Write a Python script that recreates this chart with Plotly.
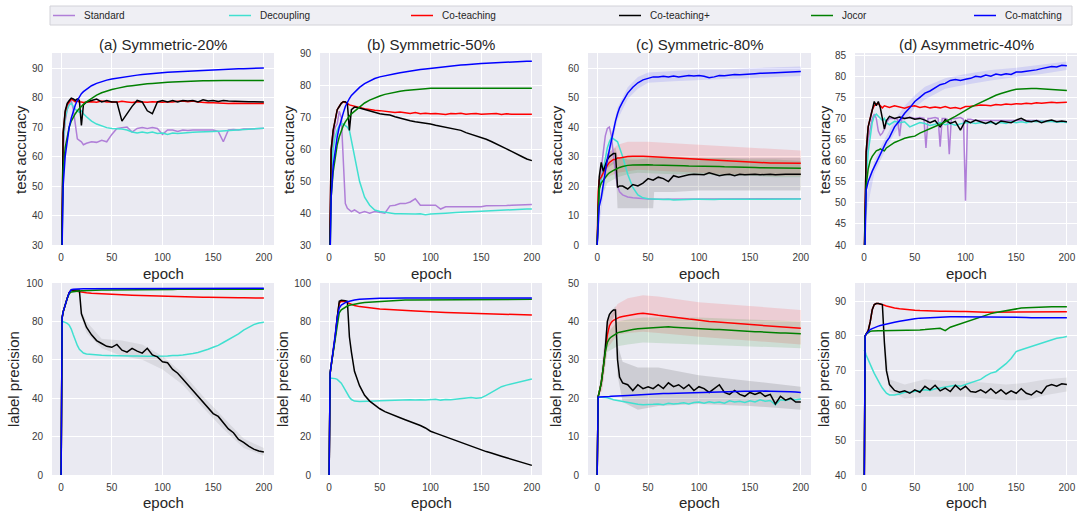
import plotly.graph_objects as go
from plotly.subplots import make_subplots

# ---------------- data ----------------
EPOCHS = [0, 1, 2, 4, 6, 8, 10, 12, 14, 16, 18, 20, 22, 25,
          30, 35, 40, 45, 50, 55, 60,
          65, 70, 75, 80, 85, 90, 95,
          100, 105, 110, 115, 120, 125, 130,
          135, 140, 145, 150, 155, 160, 165,
          170, 175, 180, 185, 190, 195, 200]

METHODS = ["Standard", "Decoupling", "Co-teaching", "Co-teaching+", "Jocor", "Co-matching"]
PANEL_TITLES = ["(a) Symmetric-20%", "(b) Symmetric-50%", "(c) Symmetric-80%", "(d) Asymmetric-40%"]
X_TICKS = [0, 50, 100, 150, 200]

# ---- test accuracy, Symmetric-20% ----
ACC_SYM20_STANDARD = [
    10, 45, 62, 72, 76, 78, 79, 76, 70, 66, 65.5, 65, 64, 64.5,
    65, 64.8, 65.5, 65, 67.5, 69.5, 69.8,
    70, 68.3, 69.5, 69.8, 69.5, 69.8, 69.5,
    67.5, 69, 69, 68.5, 69, 68.8, 69,
    69, 68.8, 69, 69, 68.5, 65, 69,
    69.2, 69, 69.3, 69.3, 69.4, 69.5, 69.6]
ACC_SYM20_DECOUPLING = [
    10, 50, 65, 73, 76, 77.5, 78, 77, 76, 75.5, 75, 75.5, 74.5, 73.5,
    72, 71, 70.3, 69.8, 69.5, 69.5, 69.3,
    69, 68.3, 68, 68.3, 68, 68.3, 67.8,
    68, 67.5, 68, 67.8, 68, 68, 68.2,
    68.3, 68.3, 68.5, 68.5, 68.6, 68.7, 68.8,
    69, 69, 69.2, 69.3, 69.4, 69.5, 69.6]
ACC_SYM20_COTEACHING = [
    10, 50, 68, 75, 77.5, 78.5, 79.5, 79, 78.5, 78.8, 78.5, 78.5, 78.3, 78.5,
    78.6, 78.4, 78.8, 78.5, 78.6, 78.4, 78.7,
    78.5, 78.3, 78.6, 78.5, 78.4, 78.6, 78.5,
    78.4, 78.6, 78.5, 78.7, 78.8, 78.6, 78.8,
    78.5, 78.3, 78.2, 78.2, 78.1, 78.1, 78,
    78.1, 78, 78, 78, 78, 78, 78]
ACC_SYM20_COTEACHING_PLUS = [
    10, 50, 68, 75.5, 78, 79, 79.8, 79.5, 79, 79.5, 79, 70.5, 77.5, 78.5,
    79, 79.5, 78.5, 79, 78.5, 78.5, 72,
    74.5, 77, 79, 78.5, 75.5, 74.5, 78.5,
    79, 78.5, 79, 78.5, 79, 78.8, 79,
    78.5, 79.2, 78.8, 79, 78.7, 79, 78.8,
    78.7, 78.8, 78.7, 78.6, 78.6, 78.5, 78.5]
ACC_SYM20_JOCOR = [
    10, 40, 55, 63, 67, 70, 72, 73.5, 74.5, 75.5, 76.3, 77, 77.7, 78.5,
    79.8, 80.8, 81.6, 82.2, 82.7, 83.1, 83.5,
    83.8, 84, 84.3, 84.5, 84.7, 84.8, 85,
    85.1, 85.2, 85.3, 85.4, 85.5, 85.6, 85.6,
    85.7, 85.7, 85.7, 85.8, 85.8, 85.8, 85.8,
    85.8, 85.8, 85.8, 85.8, 85.8, 85.8, 85.8]
ACC_SYM20_COMATCHING = [
    10, 35, 50, 60, 66, 70, 73, 75.5, 77.5, 79, 80.3, 81.3, 82, 82.8,
    84, 84.8, 85.4, 85.9, 86.3, 86.6, 86.9,
    87.2, 87.4, 87.6, 87.8, 88, 88.1, 88.3,
    88.5, 88.6, 88.7, 88.8, 88.9, 89, 89.1,
    89.2, 89.3, 89.4, 89.4, 89.5, 89.6, 89.6,
    89.7, 89.8, 89.8, 89.9, 89.9, 90, 90]

# ---- test accuracy, Symmetric-50% ----
ACC_SYM50_STANDARD = [
    10, 40, 55, 63, 67, 68, 72, 70, 55, 43, 41.5, 41, 40.5, 41,
    40, 40.5, 40, 40.5, 40.3, 40, 42.3,
    42.5, 43, 43, 43.5, 44.5, 42.5, 42.5,
    42.5, 42.5, 41.3, 42, 42, 42, 42,
    42, 41.8, 42, 42, 42.3, 42.3, 42.2,
    42.3, 42.4, 42.5, 42.5, 42.6, 42.6, 42.7]
ACC_SYM50_DECOUPLING = [
    10, 40, 52, 60, 64, 66, 67.5, 68, 68, 67.5, 67, 66, 63, 58,
    50, 45, 42.5, 41, 40.5, 40.3, 40,
    39.8, 39.8, 39.7, 39.8, 39.7, 39.8, 39.5,
    39.7, 39.7, 39.9, 40, 40, 40.2, 40.3,
    40.3, 40.4, 40.5, 40.6, 40.7, 40.8, 40.9,
    41, 41.1, 41.1, 41.2, 41.3, 41.3, 41.3]
ACC_SYM50_COTEACHING = [
    15, 50, 60, 66, 70, 72.5, 73.5, 74.5, 75, 74.8, 74.5, 74, 73.8, 73.5,
    73.2, 72.8, 72.5, 72.3, 72.2, 72, 71.8,
    71.6, 71.8, 71.5, 71.3, 71.6, 71.2, 71.4,
    71.2, 71.3, 71.2, 71, 71.3, 71.2, 71.4,
    71.1, 71.2, 71.3, 71.1, 71.2, 71.1, 71.3,
    71, 71.2, 71.1, 71.1, 71.2, 71.1, 71.1]
ACC_SYM50_COTEACHING_PLUS = [
    15, 50, 60, 66, 70, 72.5, 73.5, 74.5, 75, 75, 74.5, 66, 72.5, 73.3,
    73, 72.5, 72, 71.5, 71.2, 71, 70.8,
    70.3, 69.8, 69.5, 69, 68.7, 68.5, 68.2,
    68, 67.6, 67.3, 67, 66.6, 66.3, 66,
    65.3, 64.8, 64.3, 63.8, 63.2, 62.5, 61.8,
    61, 60.2, 59.4, 58.7, 57.8, 57, 56.5]
ACC_SYM50_JOCOR = [
    10, 35, 45, 53, 58, 61.5, 64, 66, 67.5, 68.7, 69.7, 70.5, 71.2, 72,
    73.5, 74.6, 75.5, 76.2, 76.8, 77.3, 77.7,
    78, 78.3, 78.5, 78.7, 78.9, 79, 79.1,
    79.2, 79.2, 79.3, 79.3, 79.3, 79.3, 79.4,
    79.4, 79.4, 79.4, 79.4, 79.4, 79.4, 79.3,
    79.3, 79.3, 79.3, 79.3, 79.2, 79.2, 79.2]
ACC_SYM50_COMATCHING = [
    10, 35, 45, 55, 60, 64, 67, 69.5, 71.5, 73.5, 75, 76, 77, 78,
    79.5, 80.7, 81.6, 82.3, 82.8, 83.2, 83.5,
    83.8, 84.1, 84.4, 84.7, 84.9, 85.1, 85.3,
    85.5, 85.7, 85.8, 86, 86.2, 86.3, 86.5,
    86.6, 86.8, 86.9, 87, 87.1, 87.2, 87.3,
    87.4, 87.5, 87.5, 87.6, 87.6, 87.7, 87.7]

# ---- test accuracy, Symmetric-80% ----
ACC_SYM80_STANDARD = [
    0, 10, 18, 26, 32, 37, 39.5, 40, 37, 30, 24, 20, 18, 17,
    16.3, 16, 15.8, 15.7, 15.6, 15.5, 15.5,
    15.6, 15.5, 15.6, 15.5, 15.6, 15.5, 15.6,
    15.6, 15.5, 15.6, 15.6, 15.5, 15.6, 15.6,
    15.6, 15.7, 15.6, 15.6, 15.7, 15.6, 15.7,
    15.7, 15.6, 15.7, 15.7, 15.7, 15.7, 15.7]
ACC_SYM80_DECOUPLING = [
    0, 12, 18, 22, 26, 30, 33, 35, 36.5, 36, 35.5, 35, 33, 30,
    24, 19.5, 17, 16, 15.7, 15.5, 15.5,
    15.4, 15.5, 15.3, 15.4, 15.5, 15.4, 15.5,
    15.5, 15.4, 15.5, 15.4, 15.5, 15.5, 15.4,
    15.5, 15.5, 15.6, 15.5, 15.6, 15.5, 15.6,
    15.6, 15.6, 15.5, 15.6, 15.6, 15.6, 15.6]
ACC_SYM80_COTEACHING = [
    0, 18, 22, 23, 24.5, 26, 27, 28, 28.5, 29, 29, 29.5, 29.5, 29.7,
    30, 30.1, 30.2, 30.1, 30, 29.9, 29.8,
    29.7, 29.6, 29.5, 29.4, 29.3, 29.2, 29.1,
    29, 28.9, 28.8, 28.7, 28.6, 28.5, 28.4,
    28.3, 28.2, 28.1, 28, 28, 27.9, 27.9,
    27.8, 27.8, 27.8, 27.7, 27.7, 27.7, 27.7]
ACC_SYM80_COTEACHING_PLUS = [
    0, 18, 23, 28, 25, 27, 29, 30, 30.5, 31, 31, 19.5, 20, 20,
    19, 20.5, 20, 21, 22.5, 22, 23,
    22.5, 21.5, 23.5, 23, 23.5, 23.8, 24,
    24, 23.8, 24.5, 24, 23.5, 23.8, 24,
    23.5, 24, 23.8, 24, 24, 23.8, 24,
    24, 23.8, 24, 24, 24, 24, 24]
ACC_SYM80_JOCOR = [
    0, 12, 19, 21, 22, 23, 23.8, 24.5, 25, 25.3, 25.6, 26, 26.3, 26.6,
    27, 27.1, 27.2, 27.2, 27.2, 27.1, 27.1,
    27, 27, 27, 26.9, 26.9, 26.8, 26.8,
    26.8, 26.7, 26.7, 26.6, 26.6, 26.5, 26.5,
    26.4, 26.4, 26.3, 26.3, 26.3, 26.2, 26.2,
    26.1, 26.1, 26.1, 26, 26, 26, 26]
ACC_SYM80_COMATCHING = [
    0, 5, 13, 16, 21, 25, 29, 32.5, 36, 39, 42, 44.5, 46.5, 48.5,
    51.5, 53.5, 55, 56, 56.5, 57, 57,
    57.2, 57, 57.3, 57, 57.2, 57.5, 57.3,
    57.5, 57.2, 56.7, 57, 57.5, 57.4, 57.6,
    57.8, 57.7, 57.9, 58, 58.1, 58.2, 58.2,
    58.3, 58.4, 58.5, 58.6, 58.7, 58.8, 58.8]

# ---- test accuracy, Asymmetric-40% ----
EPOCHS_ASYM40_STANDARD = [
    0, 1, 2, 4, 6, 8, 10, 12, 14, 16, 18, 20, 22, 25,
    30, 33, 35, 37, 40, 45, 50, 55,
    59, 61, 63, 65, 70, 73, 75, 77, 80, 82, 84, 86, 90, 95, 98, 100, 102, 105, 110,
    120, 130, 140, 150, 160, 170, 180, 190, 200]
ACC_ASYM40_STANDARD = [
    35, 45, 58, 65, 68, 70, 71, 70, 67, 66, 66.5, 67.5, 69, 70,
    70, 69.8, 65.8, 69.9, 70, 70.3, 70, 70.2,
    70, 63, 70, 70, 70.2, 70, 63.3, 70, 70, 69.8, 61.5, 69.9, 70, 70.2, 69.8, 50.5, 69.8, 69.8, 69.5,
    69.5, 69.6, 69.6, 69.5, 69.5, 69.5, 69.3, 69.3, 69.2]
ACC_ASYM40_DECOUPLING = [
    35, 45, 55, 62, 66, 69, 70.5, 71, 70.5, 70, 69.5, 70, 69, 68.5,
    69.3, 69, 69.2, 68, 68.5, 69, 68.8,
    68.3, 68.6, 69, 68.5, 68.8, 68.4, 68.7,
    69, 69, 68.8, 69, 68.8, 69, 68.8,
    69, 68.8, 69.2, 69, 69.2, 69, 69.3,
    69.2, 69.3, 69.2, 69.3, 69.1, 69.2, 69]
ACC_ASYM40_COTEACHING = [
    35, 50, 62, 68, 70, 72, 73, 73.5, 73.5, 73, 72.5, 73, 72.8, 72.6,
    73, 72.7, 72.4, 72.8, 73, 72.6, 72.8,
    72.5, 72.7, 72.5, 72.8, 72.4, 72.6, 72.3,
    72.8, 72.9, 73, 73.2, 73.1, 73, 73.3,
    73.2, 73.4, 73.3, 73.5, 73.4, 73.6, 73.5,
    73.7, 73.6, 73.7, 73.8, 73.7, 73.8, 73.8]
ACC_ASYM40_COTEACHING_PLUS = [
    35, 50, 62, 68, 70, 72, 74, 73, 74, 72.5, 70, 67.5, 69.5, 70.5,
    70, 70.3, 70, 70.2, 69.8, 70, 69.6,
    69, 69.5, 68, 69.7, 68.8, 69.3, 67.2,
    69.5, 69, 69.6, 69.2, 68.8, 69.3, 68.6,
    69.4, 69.2, 69, 69.6, 70, 69.4, 69.2,
    69.5, 69, 69.4, 69.6, 69.2, 69.4, 69.2]
ACC_ASYM40_JOCOR = [
    35, 45, 54, 58, 60, 61, 61.8, 62.3, 62.5, 62.8, 62.5, 62.3, 63, 63.5,
    64.3, 64.8, 65.3, 65.6, 65.8, 66.5, 67,
    67.5, 68, 68.6, 69.2, 69.8, 70.5, 71.2,
    72, 72.6, 73.2, 73.8, 74.5, 75, 75.5,
    75.9, 76.3, 76.6, 76.9, 77, 77.1, 77.1,
    77.1, 77, 76.9, 76.8, 76.7, 76.6, 76.6]
ACC_ASYM40_COMATCHING = [
    30, 48, 53, 55, 56.5, 57.5, 58.5, 59.5, 60.5, 61.5, 62.5, 63.5, 64.5, 65.5,
    68, 69.5, 71.2, 72.5, 74, 75, 76,
    76.5, 77.2, 78, 78.3, 79, 79.2, 79,
    79.3, 79.5, 80, 79.8, 80.3, 80, 80.5,
    80.3, 80.6, 80.4, 81, 81, 81.2, 81.3,
    81.5, 81.8, 82, 82.3, 82.2, 82.6, 82.5]

# ---- label precision, Symmetric-20% ----
PREC_SYM20_DECOUPLING = [
    80, 80, 79.8, 79.5, 79, 78, 76, 73, 70, 67.5, 65.5, 64.5, 63.5, 63,
    62.7, 62.5, 62.4, 62.3, 62.2, 62, 62,
    62, 62, 62, 61.8, 61.9, 61.8, 61.8,
    62, 62, 62.3, 62.2, 62.5, 62.8, 63.3,
    63.8, 64.5, 65.5, 66.5, 67.5, 69, 70.5,
    72, 73.5, 75.5, 77, 78.3, 79.2, 79.5]
PREC_SYM20_COTEACHING = [
    0, 82, 85, 89, 92, 95, 96.3, 96, 95.8, 95.5, 95.3, 95.2, 95, 94.9,
    94.7, 94.5, 94.3, 94.2, 94, 93.9, 93.8,
    93.7, 93.6, 93.5, 93.4, 93.3, 93.3, 93.2,
    93.1, 93, 93, 92.9, 92.8, 92.8, 92.7,
    92.7, 92.6, 92.6, 92.5, 92.5, 92.4, 92.4,
    92.4, 92.3, 92.3, 92.3, 92.2, 92.2, 92.2]
PREC_SYM20_COTEACHING_PLUS = [
    0, 82, 85, 89, 92, 95, 96.3, 96.5, 96.5, 96.5, 96.3, 84, 81, 77,
    73, 70, 68.5, 67, 66.5, 68, 65,
    64, 66, 64.5, 63.5, 66, 62.5, 61.5,
    59, 58.5, 55, 53, 50, 47, 44.5,
    41, 38, 35, 32, 30.5, 27, 24,
    22, 18.5, 17, 15, 13.5, 12.5, 12]
PREC_SYM20_JOCOR = [
    0, 82, 85, 89, 92, 94.5, 95.3, 95.5, 95.7, 95.8, 95.9, 96, 96, 96.1,
    96.2, 96.2, 96.3, 96.3, 96.3, 96.4, 96.4,
    96.4, 96.5, 96.5, 96.5, 96.5, 96.6, 96.6,
    96.6, 96.6, 96.6, 96.7, 96.7, 96.7, 96.7,
    96.7, 96.7, 96.7, 96.8, 96.8, 96.8, 96.8,
    96.8, 96.8, 96.8, 96.8, 96.8, 96.8, 96.8]
PREC_SYM20_COMATCHING = [
    0, 82, 85, 89, 92, 95, 96.5, 96.8, 96.9, 96.9, 97, 97, 97, 97,
    97, 97, 97.1, 97.1, 97.1, 97.1, 97.1,
    97.1, 97.2, 97.2, 97.2, 97.2, 97.2, 97.2,
    97.2, 97.2, 97.2, 97.2, 97.2, 97.2, 97.3,
    97.3, 97.3, 97.3, 97.3, 97.3, 97.3, 97.3,
    97.3, 97.3, 97.3, 97.3, 97.3, 97.3, 97.3]

# ---- label precision, Symmetric-50% ----
PREC_SYM50_DECOUPLING = [
    50.5, 50.5, 50.5, 50.4, 50.2, 49.8, 49, 47.8, 46, 44, 42, 40.5, 39.3, 38.5,
    38.3, 38.3, 38.5, 38.6, 38.7, 38.8, 38.9,
    38.8, 39, 39, 39.2, 39, 39.2, 39,
    39.3, 39.5, 39, 39.3, 39.2, 39.5, 39.6,
    40, 40.3, 40, 40.2, 41.5, 43, 44.5,
    46, 46.8, 47.5, 48.3, 49, 49.5, 50]
PREC_SYM50_COTEACHING = [
    0, 53, 57, 64, 72, 82, 89.5, 90.5, 90.5, 90.2, 89.8, 89.3, 88.8, 88.3,
    87.7, 87.3, 87, 86.7, 86.5, 86.3, 86.1,
    86, 85.8, 85.7, 85.5, 85.4, 85.3, 85.1,
    85, 84.9, 84.8, 84.7, 84.6, 84.5, 84.4,
    84.3, 84.2, 84.1, 84, 83.9, 83.8, 83.7,
    83.6, 83.5, 83.4, 83.4, 83.3, 83.3, 83.3]
PREC_SYM50_COTEACHING_PLUS = [
    0, 53, 57, 64, 72, 82, 90.5, 91, 91, 90.8, 90.5, 72, 64, 54,
    46.5, 41.5, 38.5, 36.3, 34.5, 33, 31.8,
    30.8, 29.8, 28.8, 27.8, 27, 25.8, 24.5,
    22.8, 21.8, 20.8, 19.8, 18.8, 17.8, 16.8,
    15.8, 14.8, 14, 13, 12.2, 11.5, 10.5,
    9.8, 9, 8.2, 7.2, 6.5, 5.6, 5]
PREC_SYM50_JOCOR = [
    0, 53, 57, 64, 72, 80, 84.5, 86, 86.8, 87.5, 88, 88.4, 88.7, 89,
    89.5, 89.8, 90, 90.3, 90.5, 90.6, 90.8,
    90.9, 91, 91.1, 91.2, 91.2, 91.3, 91.3,
    91.3, 91.4, 91.4, 91.4, 91.4, 91.5, 91.5,
    91.5, 91.5, 91.5, 91.5, 91.5, 91.5, 91.5,
    91.5, 91.5, 91.5, 91.5, 91.5, 91.5, 91.5]
PREC_SYM50_COMATCHING = [
    0, 53, 57, 64, 73, 82, 87, 88.5, 89.3, 89.8, 90.2, 90.5, 90.8, 91.1,
    91.5, 91.7, 91.9, 92, 92.1, 92.1, 92.2,
    92.2, 92.2, 92.2, 92.2, 92.2, 92.2, 92.2,
    92.2, 92.2, 92.2, 92.2, 92.2, 92.2, 92.2,
    92.2, 92.2, 92.2, 92.2, 92.2, 92.2, 92.2,
    92.2, 92.2, 92.2, 92.2, 92.2, 92.2, 92.2]

# ---- label precision, Symmetric-80% ----
PREC_SYM80_DECOUPLING = [
    20.3, 20.3, 20.3, 20.3, 20.3, 20.2, 20.1, 20, 19.8, 19.6, 19.5, 19.3, 19.2, 19,
    18.8, 18.6, 18.4, 18.3, 18.3, 18.4, 18.5,
    18.3, 18.7, 18.5, 18.6, 18.8, 18.5, 18.9,
    19, 18.7, 19.1, 18.8, 19, 18.7, 19.3,
    19, 19.2, 18.9, 19.3, 19, 19.6, 19.2,
    19.4, 18.3, 19.6, 19.4, 19.8, 19.6, 19.8]
PREC_SYM80_COTEACHING = [
    0, 20.5, 21.5, 24, 28, 32.5, 36.5, 38.8, 39.8, 40.3, 40.6, 40.9, 41.1, 41.3,
    41.6, 41.8, 42, 42.1, 42, 41.8, 41.6,
    41.4, 41.3, 41.1, 40.9, 40.8, 40.6, 40.5,
    40.3, 40.2, 40, 39.9, 39.8, 39.6, 39.5,
    39.4, 39.3, 39.2, 39.1, 39, 38.9, 38.8,
    38.7, 38.6, 38.5, 38.4, 38.4, 38.3, 38.2]
PREC_SYM80_COTEACHING_PLUS = [
    0, 20.5, 21.5, 24, 28, 33, 40, 41.8, 42.5, 43, 43, 30, 25.5, 24,
    23.5, 22, 23.5, 22.5, 23, 22.5, 23.5,
    22.5, 24, 23, 23.5, 22.5, 23.5, 22,
    23, 22.5, 21.5, 22.5, 23.5, 21.5, 21,
    22, 21, 20.5, 21.5, 21, 21.5, 20.5,
    21, 18.5, 20.5, 19.5, 20, 19, 19]
PREC_SYM80_JOCOR = [
    0, 20.5, 21.5, 24, 28, 32, 34.5, 35.5, 36, 36.4, 36.7, 37, 37.2, 37.4,
    37.7, 37.9, 38.1, 38.2, 38.3, 38.4, 38.5,
    38.5, 38.6, 38.5, 38.4, 38.4, 38.3, 38.3,
    38.2, 38.1, 38, 37.9, 37.9, 37.8, 37.7,
    37.6, 37.5, 37.5, 37.4, 37.3, 37.3, 37.2,
    37.1, 37.1, 37, 37, 36.9, 36.8, 36.8]
PREC_SYM80_COMATCHING = [
    0, 20.3, 20.3, 20.3, 20.35, 20.4, 20.4, 20.45, 20.5, 20.5, 20.55, 20.6, 20.6, 20.65,
    20.7, 20.8, 20.85, 20.9, 21, 21.05, 21.1,
    21.2, 21.25, 21.3, 21.35, 21.4, 21.45, 21.5,
    21.5, 21.55, 21.6, 21.65, 21.7, 21.7, 21.75,
    21.75, 21.8, 21.8, 21.8, 21.85, 21.85, 21.85,
    21.8, 21.8, 21.75, 21.7, 21.65, 21.6, 21.5]

# ---- label precision, Asymmetric-40% ----
PREC_ASYM40_DECOUPLING = [
    76, 75.5, 74.5, 73, 71.8, 70.5, 69.2, 68, 67, 66, 65, 64.3, 63.5, 63,
    63, 63.3, 63.8, 63.8, 64, 64.2, 64.5,
    64.3, 64.8, 65, 65.3, 65.5, 65.8, 65.5,
    66, 66.5, 66.8, 67.5, 68.5, 69.3, 69.7,
    70.8, 72, 73.5, 75.5, 76, 76.5, 77,
    77.5, 78, 78.5, 79, 79.3, 79.5, 79.8]
PREC_ASYM40_COTEACHING = [
    30, 80, 80.5, 81.5, 84, 87.5, 89, 89.3, 89.3, 89.2, 89, 88.8, 88.6, 88.3,
    88, 87.8, 87.6, 87.5, 87.4, 87.3, 87.2,
    87.2, 87.1, 87.1, 87.1, 87, 87, 87,
    87, 86.9, 86.9, 86.8, 86.8, 86.8, 86.8,
    86.9, 86.9, 86.9, 87, 87, 87, 87,
    86.9, 86.9, 86.9, 86.9, 86.9, 86.9, 86.9]
PREC_ASYM40_COTEACHING_PLUS = [
    30, 80, 80.5, 81.5, 84, 87.5, 89, 89.3, 89.3, 89.2, 89, 78, 70, 66,
    64.3, 63.8, 64.2, 63.5, 64.5, 63.8, 65.5,
    64.5, 65.8, 64.2, 65, 64, 65.8, 64.5,
    65.5, 64, 63.8, 64.5, 63.6, 64.8, 63.5,
    64.5, 63.3, 64.2, 63.5, 64.8, 63.5, 63,
    64.2, 63.5, 65.5, 66, 65.5, 66.2, 66]
PREC_ASYM40_JOCOR = [
    30, 80, 80.5, 81, 81.3, 81.4, 81.5, 81.5, 81.5, 81.5, 81.5, 81.5, 81.5, 81.5,
    81.5, 81.5, 81.5, 81.5, 81.6, 81.7, 81.8,
    81.9, 82, 82.2, 81.5, 82.5, 83, 83.5,
    84, 84.5, 85, 85.6, 86, 86.4, 86.7,
    87, 87.3, 87.6, 87.8, 88, 88.1, 88.2,
    88.3, 88.3, 88.4, 88.4, 88.4, 88.4, 88.4]
PREC_ASYM40_COMATCHING = [
    30, 80, 80.5, 81.3, 81.8, 82.1, 82.4, 82.6, 82.8, 83, 83.1, 83.3, 83.4, 83.6,
    83.9, 84.2, 84.5, 84.7, 84.9, 85.1, 85.2,
    85.3, 85.4, 85.5, 85.5, 85.5, 85.5, 85.5,
    85.5, 85.5, 85.5, 85.5, 85.4, 85.4, 85.4,
    85.4, 85.3, 85.3, 85.3, 85.3, 85.3, 85.2,
    85.2, 85.2, 85.2, 85.2, 85.2, 85.2, 85.2]

# ---- shaded spread bands ----
BAND_ACC80_EPOCHS = [1, 10, 20, 30, 40, 50, 75, 100, 125, 150, 175, 200]
BAND_ACC80_RED_UP = [20, 31, 34, 35, 35, 35, 34.5, 34, 33.5, 33, 32.5, 32]
BAND_ACC80_RED_LO = [20, 23, 24.5, 25, 25.5, 25.5, 25, 24.5, 24, 24, 23.5, 23.5]
BAND_ACC80_GREEN_UP = [15, 27, 29, 30, 30, 30, 30, 29.5, 29.5, 29, 29, 28.5]
BAND_ACC80_GREEN_LO = [13, 21, 23, 24, 24.5, 24.5, 24, 24, 23.5, 23.5, 23, 23]
BAND_ACC80_BLUE_UP = [6, 31, 46.5, 53.5, 57, 58.5, 59, 59.5, 59.5, 60, 60.3, 60.5]
BAND_ACC80_BLUE_LO = [4, 27, 42.5, 49.5, 53, 55, 55.5, 56, 56.3, 56.5, 57, 57.3]
BAND_ACC80_BLACK_EPOCHS = [1, 10, 18, 20, 30, 40, 55, 56, 75, 100, 150, 200]
BAND_ACC80_BLACK_UP = [20, 31, 33, 30, 29, 29, 29.5, 29.5, 29.5, 29.5, 29.5, 29.5]
BAND_ACC80_BLACK_LO = [20, 26, 28, 12.5, 12.5, 12.5, 12.5, 18, 18, 18.5, 18.5, 18.5]

BAND_PREC80_EPOCHS = [1, 5, 10, 20, 30, 45, 60, 100, 150, 200]
BAND_PREC80_RED_UP = [20.5, 26, 40, 44.5, 46, 46.8, 46.5, 45, 44, 43]
BAND_PREC80_RED_LO = [20.5, 22, 33, 36.5, 37, 37.3, 37, 36, 35, 34]
BAND_PREC80_GREEN_UP = [20.5, 25, 37, 40, 40.5, 41, 41, 41, 40.5, 40]
BAND_PREC80_GREEN_LO = [20.5, 23, 32, 33.5, 34, 34.5, 34.5, 34, 33.5, 33]
BAND_PREC80_BLACK_EPOCHS = [1, 10, 18, 20, 25, 40, 60, 100, 150, 200]
BAND_PREC80_BLACK_UP = [20.5, 41, 44, 34, 29.5, 28, 28, 26, 24.5, 23]
BAND_PREC80_BLACK_LO = [20.5, 38, 42, 26, 19, 17, 18, 18.5, 18, 17]

BAND_ACC40A_EPOCHS = [1, 10, 20, 30, 40, 50, 60, 80, 100, 125, 150, 175, 200]
BAND_ACC40A_BLUE_UP = [50, 60, 65, 69.5, 73, 75.5, 77.5, 79.5, 80.5, 81.5, 82, 82.8, 83.5]
BAND_ACC40A_BLUE_LO = [46, 57, 62, 66.5, 69.5, 72.5, 74.5, 77, 78, 79, 79.8, 80.5, 81.5]

BAND_PREC_BLACK_EPOCHS = [18, 20, 25, 40, 60, 80, 100, 120, 140, 160, 180, 200]
BAND_PREC20_BLACK_UP = [97, 86, 80, 71, 70, 68, 62, 53, 41, 30, 19, 14]
BAND_PREC20_BLACK_LO = [96, 82, 74, 66, 62, 60, 55, 47, 35, 24, 14, 10]
BAND_PREC40A_BLACK_UP = [89.5, 80, 67.5, 66, 67.5, 67, 67, 66.5, 66, 66.5, 67.5, 68]
BAND_PREC40A_BLACK_LO = [88.5, 76, 64, 62, 62.5, 62.5, 62.5, 62, 61.5, 61.5, 63, 64]

# ---------------- assembly ----------------
ACC = [
    [ACC_SYM20_STANDARD, ACC_SYM20_DECOUPLING, ACC_SYM20_COTEACHING,
     ACC_SYM20_COTEACHING_PLUS, ACC_SYM20_JOCOR, ACC_SYM20_COMATCHING],
    [ACC_SYM50_STANDARD, ACC_SYM50_DECOUPLING, ACC_SYM50_COTEACHING,
     ACC_SYM50_COTEACHING_PLUS, ACC_SYM50_JOCOR, ACC_SYM50_COMATCHING],
    [ACC_SYM80_STANDARD, ACC_SYM80_DECOUPLING, ACC_SYM80_COTEACHING,
     ACC_SYM80_COTEACHING_PLUS, ACC_SYM80_JOCOR, ACC_SYM80_COMATCHING],
    [ACC_ASYM40_STANDARD, ACC_ASYM40_DECOUPLING, ACC_ASYM40_COTEACHING,
     ACC_ASYM40_COTEACHING_PLUS, ACC_ASYM40_JOCOR, ACC_ASYM40_COMATCHING],
]
ACC_X = [[EPOCHS] * 6, [EPOCHS] * 6, [EPOCHS] * 6,
         [EPOCHS_ASYM40_STANDARD] + [EPOCHS] * 5]
PREC = [
    [None, PREC_SYM20_DECOUPLING, PREC_SYM20_COTEACHING,
     PREC_SYM20_COTEACHING_PLUS, PREC_SYM20_JOCOR, PREC_SYM20_COMATCHING],
    [None, PREC_SYM50_DECOUPLING, PREC_SYM50_COTEACHING,
     PREC_SYM50_COTEACHING_PLUS, PREC_SYM50_JOCOR, PREC_SYM50_COMATCHING],
    [None, PREC_SYM80_DECOUPLING, PREC_SYM80_COTEACHING,
     PREC_SYM80_COTEACHING_PLUS, PREC_SYM80_JOCOR, PREC_SYM80_COMATCHING],
    [None, PREC_ASYM40_DECOUPLING, PREC_ASYM40_COTEACHING,
     PREC_ASYM40_COTEACHING_PLUS, PREC_ASYM40_JOCOR, PREC_ASYM40_COMATCHING],
]
for ci in range(4):
    for m in range(6):
        if len(ACC[ci][m]) != len(ACC_X[ci][m]):
            raise ValueError(f"acc length mismatch panel {ci} method {m}: {len(ACC[ci][m])}")
        if PREC[ci][m] is not None and len(PREC[ci][m]) != len(EPOCHS):
            raise ValueError(f"prec length mismatch panel {ci} method {m}: {len(PREC[ci][m])}")

# ---------------- style ----------------
COLORS = ["#B07FD8", "#40E0D0", "#FF0000", "#000000", "#008000", "#0000FF"]
BAND_FILL = {"red": "rgba(255,0,0,0.12)", "green": "rgba(0,128,0,0.12)",
             "blue": "rgba(0,0,255,0.10)", "black": "rgba(0,0,0,0.12)",
             "lightblack": "rgba(0,0,0,0.07)"}
BANDS = [  # (row, col, colour, epochs, lower, upper)
    (1, 3, "black", BAND_ACC80_BLACK_EPOCHS, BAND_ACC80_BLACK_LO, BAND_ACC80_BLACK_UP),
    (1, 3, "red", BAND_ACC80_EPOCHS, BAND_ACC80_RED_LO, BAND_ACC80_RED_UP),
    (1, 3, "green", BAND_ACC80_EPOCHS, BAND_ACC80_GREEN_LO, BAND_ACC80_GREEN_UP),
    (1, 3, "blue", BAND_ACC80_EPOCHS, BAND_ACC80_BLUE_LO, BAND_ACC80_BLUE_UP),
    (1, 4, "blue", BAND_ACC40A_EPOCHS, BAND_ACC40A_BLUE_LO, BAND_ACC40A_BLUE_UP),
    (2, 1, "lightblack", BAND_PREC_BLACK_EPOCHS, BAND_PREC20_BLACK_LO, BAND_PREC20_BLACK_UP),
    (2, 3, "black", BAND_PREC80_BLACK_EPOCHS, BAND_PREC80_BLACK_LO, BAND_PREC80_BLACK_UP),
    (2, 3, "red", BAND_PREC80_EPOCHS, BAND_PREC80_RED_LO, BAND_PREC80_RED_UP),
    (2, 3, "green", BAND_PREC80_EPOCHS, BAND_PREC80_GREEN_LO, BAND_PREC80_GREEN_UP),
    (2, 4, "lightblack", BAND_PREC_BLACK_EPOCHS, BAND_PREC40A_BLACK_LO, BAND_PREC40A_BLACK_UP),
]

W, H = 1080, 513
FONT = "Liberation Sans, Arial, Helvetica, sans-serif"
COL_PX = [(52, 274), (320, 542), (588, 811), (855, 1077)]
ROW_PX = [(53, 245), (283, 475)]
Y_RANGES = [[(30, 95.1), (30, 90.3), (0, 65.1), (40, 85.5)],
            [(0, 100), (0, 100), (0, 50), (40, 95.2)]]
Y_DTICK = [[10, 10, 10, 5], [20, 20, 10, 10]]
Y_TICK0 = [[30, 30, 0, 40], [0, 0, 0, 40]]
LEGEND_TEXT_X = [82, 258, 440, 648, 840, 1003]   # pixel position of each legend label
LEGEND_Y = 15.5

fig = make_subplots(rows=2, cols=4)

for (r, c, colr, be, lo, up) in BANDS:
    fig.add_trace(go.Scatter(x=list(be) + list(be)[::-1], y=list(up) + list(lo)[::-1],
                             fill="toself", fillcolor=BAND_FILL[colr], line=dict(width=0),
                             mode="lines", hoverinfo="skip", showlegend=False),
                  row=r, col=c)

for ci in range(4):
    for m in range(6):
        fig.add_trace(go.Scatter(x=ACC_X[ci][m], y=ACC[ci][m], mode="lines",
                                 name=METHODS[m], legendgroup=METHODS[m], showlegend=False,
                                 line=dict(color=COLORS[m], width=1.5)),
                      row=1, col=ci + 1)
    for m in range(6):
        if PREC[ci][m] is None:
            continue
        fig.add_trace(go.Scatter(x=EPOCHS, y=PREC[ci][m], mode="lines",
                                 name=METHODS[m], legendgroup=METHODS[m], showlegend=False,
                                 line=dict(color=COLORS[m], width=1.5)),
                      row=2, col=ci + 1)

layout_upd = {}
for r in range(2):
    for ci in range(4):
        n = r * 4 + ci + 1
        xs = "" if n == 1 else str(n)
        x0, x1 = COL_PX[ci]
        y0, y1 = ROW_PX[r]
        layout_upd["xaxis" + xs] = dict(
            domain=[x0 / W, x1 / W], range=[-9, 210], tickvals=X_TICKS,
            showgrid=True, gridcolor="white", gridwidth=1, zeroline=False, showline=False,
            ticks="", ticklabelstandoff=5, automargin=False,
            tickfont=dict(family=FONT, size=10, color="#3a3a3a"))
        layout_upd["yaxis" + xs] = dict(
            domain=[1 - y1 / H, 1 - y0 / H], range=list(Y_RANGES[r][ci]),
            tick0=Y_TICK0[r][ci], dtick=Y_DTICK[r][ci],
            showgrid=True, gridcolor="white", gridwidth=1, zeroline=False, showline=False,
            ticks="", ticklabelstandoff=8, automargin=False,
            tickfont=dict(family=FONT, size=10, color="#3a3a3a"))

annotations = []
shapes = [dict(type="rect", xref="paper", yref="paper",
               x0=50 / W, x1=1072 / W, y0=1 - 25 / H, y1=1 - 6 / H,
               fillcolor="#EFEFF4", line=dict(color="#D2D2D8", width=1), layer="below")]

# legend: short line sample + label for each method
for m, name in enumerate(METHODS):
    tx = LEGEND_TEXT_X[m]
    shapes.append(dict(type="line", xref="paper", yref="paper",
                       x0=(tx - 29) / W, x1=(tx - 7) / W,
                       y0=1 - LEGEND_Y / H, y1=1 - LEGEND_Y / H,
                       line=dict(color=COLORS[m], width=1.5), layer="above"))
    annotations.append(dict(text=name, x=tx / W, y=1 - LEGEND_Y / H,
                            xref="paper", yref="paper", xanchor="left", yanchor="middle",
                            showarrow=False,
                            font=dict(family=FONT, size=10, color="#262626")))

TITLE_FONT = dict(family=FONT, size=15, color="#262626")
for ci in range(4):
    x0, x1 = COL_PX[ci]
    annotations.append(dict(text=PANEL_TITLES[ci], x=(x0 + x1) / 2 / W, y=1 - 44 / H,
                            xref="paper", yref="paper", xanchor="center", yanchor="middle",
                            showarrow=False, font=TITLE_FONT))
    for yy in (273, 502):
        annotations.append(dict(text="epoch", x=(x0 + x1) / 2 / W, y=1 - yy / H,
                                xref="paper", yref="paper", xanchor="center", yanchor="middle",
                                showarrow=False, font=TITLE_FONT))
YLAB_X_TOP = [20, 288, 556, 824]
YLAB_X_BOT = [13, 282, 555, 823]
for ci in range(4):
    annotations.append(dict(text="test accuracy", x=YLAB_X_TOP[ci] / W, y=1 - 150 / H,
                            xref="paper", yref="paper", xanchor="center", yanchor="middle",
                            textangle=-90, showarrow=False, font=TITLE_FONT))
    annotations.append(dict(text="label precision", x=YLAB_X_BOT[ci] / W, y=1 - 379 / H,
                            xref="paper", yref="paper", xanchor="center", yanchor="middle",
                            textangle=-90, showarrow=False, font=TITLE_FONT))

fig.update_layout(
    width=W, height=H, margin=dict(l=0, r=0, t=0, b=0),
    paper_bgcolor="white", plot_bgcolor="#EAEAF2",
    font=dict(family=FONT, color="#262626"), showlegend=False,
    annotations=annotations, shapes=shapes,
    **layout_upd)

fig.write_html("out.html", config={"displayModeBar": False},
               post_script="document.body.style.margin='0px';document.body.style.padding='0px';"
                           "document.body.style.overflow='hidden';")
